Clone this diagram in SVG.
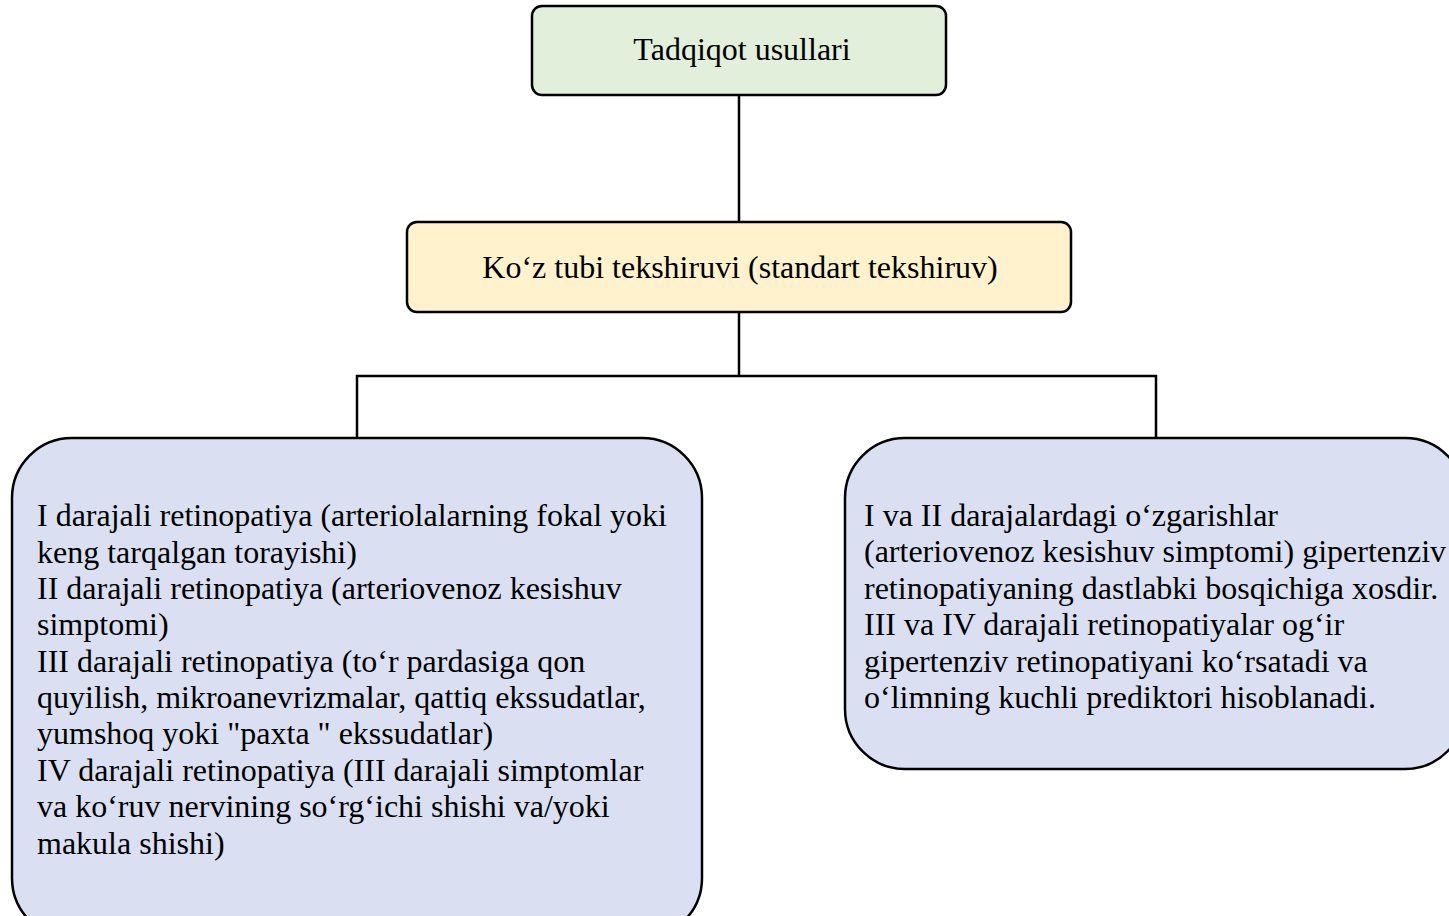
<svg xmlns="http://www.w3.org/2000/svg" width="1449" height="916" viewBox="0 0 1449 916">
<style>
.box{stroke:#000;stroke-width:2.5}
.t{font-family:"Liberation Serif","Times New Roman",serif;font-size:32px;fill:#000}
.c{text-anchor:middle}
.ln{stroke:#000;stroke-width:2.5;fill:none}
</style>
<rect width="1449" height="916" fill="#fff"/>
<g id="connectors">
<line class="ln" x1="739" y1="95" x2="739" y2="222"/>
<line class="ln" x1="739" y1="312" x2="739" y2="376"/>
<polyline class="ln" points="357,438 357,376 1156,376 1156,438"/>
</g>
<g id="n1">
<rect class="box" x="532" y="6" width="414" height="89" rx="10" fill="#e2efda"/>
<text class="t c" x="742" y="60">Tadqiqot usullari</text>
</g>
<g id="n2">
<rect class="box" x="407" y="222" width="664" height="90" rx="10" fill="#fff2cc"/>
<text class="t c" x="740" y="278">Ko‘z tubi tekshiruvi (standart tekshiruv)</text>
</g>
<g id="n3">
<rect class="box" x="12" y="438" width="690" height="500" rx="60" fill="#dae0f2"/>
<text class="t">
<tspan x="37" y="526">I darajali retinopatiya (arteriolalarning fokal yoki</tspan>
<tspan x="37" y="563">keng tarqalgan torayishi)</tspan>
<tspan x="37" y="599">II darajali retinopatiya (arteriovenoz kesishuv</tspan>
<tspan x="37" y="635">simptomi)</tspan>
<tspan x="37" y="672">III darajali retinopatiya (to‘r pardasiga qon</tspan>
<tspan x="37" y="708">quyilish, mikroanevrizmalar, qattiq ekssudatlar,</tspan>
<tspan x="37" y="744">yumshoq  yoki "paxta " ekssudatlar)</tspan>
<tspan x="37" y="781">IV darajali retinopatiya (III darajali simptomlar</tspan>
<tspan x="37" y="817">va ko‘ruv nervining so‘rg‘ichi shishi va/yoki</tspan>
<tspan x="37" y="854">makula  shishi)</tspan>
</text>
</g>
<g id="n4">
<rect class="box" x="845" y="438" width="620" height="331" rx="60" fill="#dae0f2"/>
<text class="t">
<tspan x="864" y="526">I va II darajalardagi o‘zgarishlar</tspan>
<tspan x="864" y="562">(arteriovenoz kesishuv simptomi) gipertenziv</tspan>
<tspan x="864" y="599">retinopatiyaning dastlabki bosqichiga xosdir.</tspan>
<tspan x="864" y="635">III va IV darajali retinopatiyalar og‘ir</tspan>
<tspan x="864" y="672">gipertenziv retinopatiyani ko‘rsatadi va</tspan>
<tspan x="864" y="708">o‘limning kuchli prediktori hisoblanadi.</tspan>
</text>
</g>
</svg>
